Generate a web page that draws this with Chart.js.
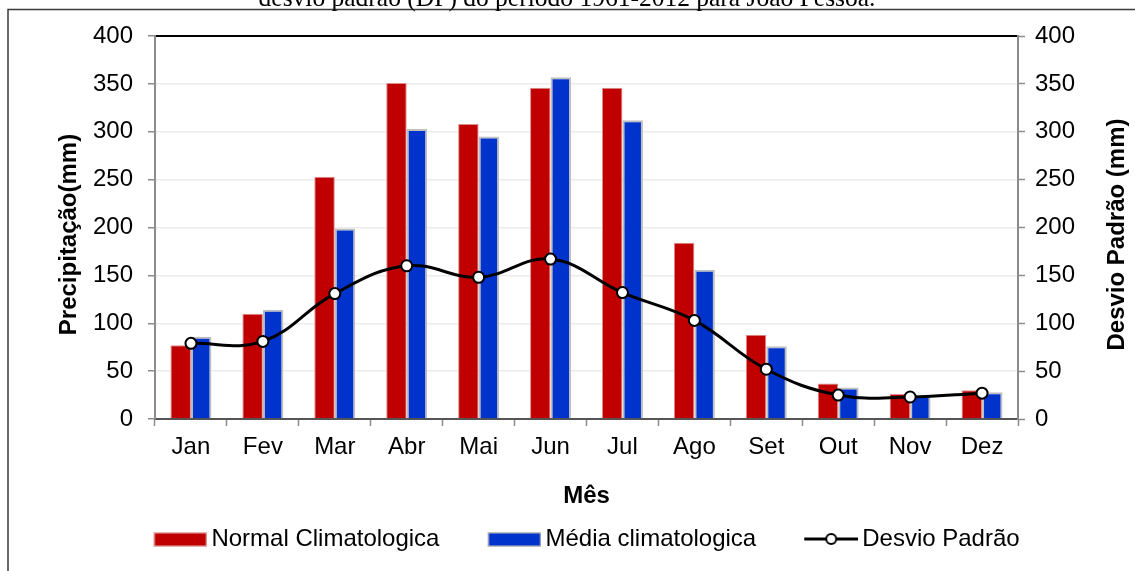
<!DOCTYPE html>
<html>
<head>
<meta charset="utf-8">
<script src="https://cdn.jsdelivr.net/npm/chart.js@4.4.1/dist/chart.umd.min.js"></script>
<style>
  html, body { margin: 0; padding: 0; background: #fff; }
  #wrap { width: 1135px; height: 571px; }
  canvas { display: block; }
</style>
</head>
<body>
<div id="wrap"><canvas id="grafico" width="1135" height="571"></canvas></div>
<script>
// Precipitação mensal em João Pessoa (mm)
const meses = ['Jan', 'Fev', 'Mar', 'Abr', 'Mai', 'Jun', 'Jul', 'Ago', 'Set', 'Out', 'Nov', 'Dez'];
const normalClimatologica = [77, 110, 253, 351, 308, 346, 346, 184, 88, 37, 26, 30];
const mediaClimatologica = [86, 114, 199, 303, 295, 357, 312, 156, 76, 33, 24, 28];
const desvioPadrao = [79, 81, 131, 160, 148, 167, 132, 103, 52, 25, 23, 27];

// Escala comum aos dois eixos verticais
const escalaMin = 0;
const escalaMax = 400;
const escalaPasso = 50;

const legendaSuperior = 'desvio padrão (DP) do período 1961-2012 para João Pessoa.';
const tituloEixoEsq = 'Precipitação(mm)';
const tituloEixoDir = 'Desvio Padrão (mm)';
const tituloEixoX = 'Mês';

const FONTE = "'Liberation Sans', Arial, Helvetica, sans-serif";
const TAM = 24;
Chart.defaults.font.family = FONTE;
Chart.defaults.font.size = TAM;
Chart.defaults.color = '#000';

// Ícones da legenda: amostra visível encostada à direita da imagem
const LARG_ICONE = 54;
const LARG_CAIXA = 84;
const LARG_IMG = LARG_CAIXA + 16;
function iconeBarra(preenchimento, contorno) {
  const c = document.createElement('canvas');
  c.width = LARG_IMG; c.height = 16;
  const g = c.getContext('2d');
  const x0 = LARG_IMG - LARG_ICONE;
  g.fillStyle = contorno;
  g.fillRect(x0, 1, LARG_ICONE, 15);
  g.fillStyle = preenchimento;
  g.fillRect(x0 + 1.5, 2.5, LARG_ICONE - 3, 12);
  return c;
}
function iconeLinha() {
  const c = document.createElement('canvas');
  c.width = LARG_IMG; c.height = 16;
  const g = c.getContext('2d');
  const x0 = LARG_IMG - LARG_ICONE;
  g.strokeStyle = '#000'; g.lineWidth = 3;
  g.beginPath(); g.moveTo(x0, 8); g.lineTo(x0 + LARG_ICONE, 8); g.stroke();
  g.beginPath(); g.arc(x0 + LARG_ICONE / 2, 8, 5, 0, Math.PI * 2);
  g.fillStyle = '#fff'; g.fill(); g.lineWidth = 2; g.stroke();
  return c;
}

function tituloVertical(ctx, texto, x, y) {
  ctx.save();
  ctx.fillStyle = '#000';
  ctx.font = 'bold ' + TAM + 'px ' + FONTE;
  ctx.textAlign = 'center';
  ctx.textBaseline = 'middle';
  ctx.translate(x, y);
  ctx.rotate(-Math.PI / 2);
  ctx.fillText(texto, 0, 0);
  ctx.restore();
}

const moldura = {
  id: 'moldura',
  beforeDraw(chart) {
    const ctx = chart.ctx;
    ctx.save();
    ctx.fillStyle = '#fff';
    ctx.fillRect(0, 0, chart.width, chart.height);
    ctx.strokeStyle = '#3a3a3a';
    ctx.lineWidth = 1.5;
    ctx.beginPath();
    ctx.moveTo(8, chart.height + 5);
    ctx.lineTo(8, 9.5);
    ctx.lineTo(chart.width + 5, 9.5);
    ctx.stroke();
    ctx.fillStyle = '#000';
    ctx.font = "25.5px 'Liberation Serif', 'Times New Roman', serif";
    ctx.textAlign = 'center';
    ctx.textBaseline = 'alphabetic';
    ctx.fillText(legendaSuperior, 567, 6);
    ctx.restore();
  },
  afterDraw(chart) {
    const area = chart.chartArea;
    const meio = (area.top + area.bottom) / 2 + 7;
    tituloVertical(chart.ctx, tituloEixoEsq, 69, meio);
    tituloVertical(chart.ctx, tituloEixoDir, 1117, meio);
  }
};

new Chart(document.getElementById('grafico'), {
  data: {
    labels: meses,
    datasets: [
      {
        type: 'bar',
        label: 'Normal Climatologica',
        data: normalClimatologica,
        backgroundColor: '#C00000',
        borderColor: '#DC8C8C',
        borderWidth: 1,
        categoryPercentage: 0.57,
        barPercentage: 1,
        yAxisID: 'y',
        order: 1
      },
      {
        type: 'bar',
        label: 'Média climatologica',
        data: mediaClimatologica,
        backgroundColor: '#0033CC',
        borderColor: '#BFBFBF',
        borderWidth: 2,
        categoryPercentage: 0.57,
        barPercentage: 1,
        yAxisID: 'y',
        order: 1
      },
      {
        type: 'line',
        label: 'Desvio Padrão',
        data: desvioPadrao,
        borderColor: '#000',
        borderWidth: 3,
        tension: 0.4,
        pointRadius: 5.5,
        pointBorderWidth: 2,
        pointBackgroundColor: '#fff',
        pointBorderColor: '#000',
        yAxisID: 'y2',
        order: 0
      }
    ]
  },
  options: {
    responsive: false,
    animation: false,
    events: [],
    layout: { padding: { top: 36, left: 0, right: 0, bottom: 10 } },
    plugins: {
      tooltip: { enabled: false },
      title: { display: false },
      legend: {
        display: true,
        position: 'bottom',
        labels: {
          usePointStyle: true,
          pointStyleWidth: LARG_CAIXA,
          boxHeight: TAM,
          padding: 10,
          color: '#000',
          font: { size: TAM },
          generateLabels(chart) {
            const icones = [
              iconeBarra('#C00000', '#E6B0B0'),
              iconeBarra('#0033CC', '#BFBFBF'),
              iconeLinha()
            ];
            return chart.data.datasets.map((ds, i) => ({
              text: ds.label,
              datasetIndex: i,
              pointStyle: icones[i],
              fillStyle: 'transparent',
              strokeStyle: 'transparent',
              lineWidth: 0,
              hidden: false,
              fontColor: '#000'
            }));
          }
        }
      }
    },
    scales: {
      x: {
        type: 'category',
        position: 'bottom',
        offset: true,
        grid: {
          offset: true,
          drawOnChartArea: false,
          drawTicks: true,
          tickLength: 7,
          tickColor: '#8c8c8c',
          tickWidth: 1.5
        },
        border: { display: true, color: '#555', width: 2 },
        ticks: { padding: 7, color: '#000', font: { size: TAM }, maxRotation: 0 },
        title: {
          display: true,
          text: tituloEixoX,
          color: '#000',
          font: { size: TAM, weight: 'bold' },
          padding: { top: 0, bottom: 6 }
        },
        afterFit(scale) { scale.height = 98; }
      },
      xTopo: {
        type: 'category',
        position: 'top',
        offset: true,
        grid: { display: false, drawOnChartArea: false, drawTicks: false },
        border: { display: true, color: '#000', width: 2 },
        ticks: { display: false },
        afterFit(scale) { scale.height = 0; }
      },
      y: {
        type: 'linear',
        position: 'left',
        min: escalaMin,
        max: escalaMax,
        ticks: { stepSize: escalaPasso, padding: 15, color: '#000', font: { size: TAM } },
        grid: {
          color: '#ECECEC',
          lineWidth: 1.5,
          drawTicks: true,
          tickLength: 7,
          tickColor: '#8c8c8c',
          tickWidth: 1.5
        },
        border: { display: true, color: '#8c8c8c', width: 2 },
        afterFit(scale) { scale.width = 155; }
      },
      y2: {
        type: 'linear',
        position: 'right',
        min: escalaMin,
        max: escalaMax,
        ticks: { stepSize: escalaPasso, padding: 10, color: '#000', font: { size: TAM } },
        grid: {
          drawOnChartArea: false,
          drawTicks: true,
          tickLength: 7,
          tickColor: '#8c8c8c',
          tickWidth: 1.5
        },
        border: { display: true, color: '#8c8c8c', width: 2 },
        afterFit(scale) { scale.width = 117; }
      }
    }
  },
  plugins: [moldura]
});
</script>
</body>
</html>
